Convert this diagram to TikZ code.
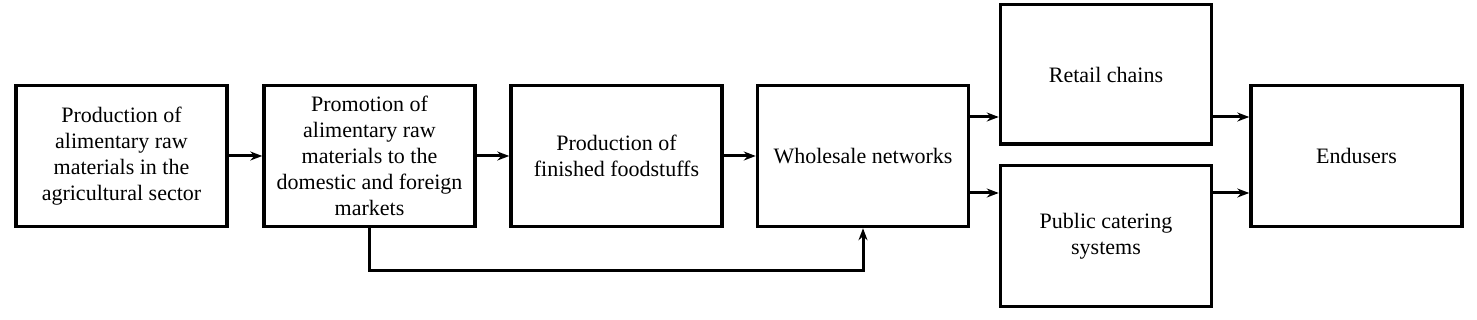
\documentclass[tikz,border=0pt]{standalone}
\usepackage{fontspec}
\setmainfont{Liberation Serif}
\newfontfamily\tnr{Liberation Serif}
\usetikzlibrary{arrows.meta}
\begin{document}
\begin{tikzpicture}[x=1pt,y=-1pt,
  box/.style={draw,line width=3.5pt,inner sep=2pt,align=center,
    minimum width=211pt,minimum height=141pt,
    font=\tnr\fontsize{22}{26}\selectfont},
  arr/.style={line width=3pt,-{Stealth[length=12pt,width=9pt,inset=4pt]}}]
\useasboundingbox (0,0) rectangle (1477,320);
\node[box] (b1) at (121.5,156) {Production of\\alimentary raw\\materials in the\\agricultural sector};
\node[box] (b2) at (369.5,156) {Promotion of\\alimentary raw\\materials to the\\domestic and foreign\\markets};
\node[box] (b3) at (616.5,156) {Production of\\finished foodstuffs};
\node[box] (b4) at (863,156) {Wholesale networks};
\node[box,minimum height=139.5pt] (r) at (1106,74.5) {Retail chains};
\node[box] (p) at (1106,236) {Public catering\\systems};
\node[box] (e) at (1356.5,156) {Endusers};
\draw[arr] (b1) -- (b2);
\draw[arr] (b2) -- (b3);
\draw[arr] (b3) -- (b4);
\draw[arr] ([yshift=39pt]b4.east) -- ([yshift=39pt]b4.east -| r.west);
\draw[arr] ([yshift=-37pt]b4.east) -- ([yshift=-37pt]b4.east -| p.west);
\draw[arr] ([yshift=39pt]e.west -| r.east) -- ([yshift=39pt]e.west);
\draw[arr] ([yshift=-37pt]e.west -| p.east) -- ([yshift=-37pt]e.west);
\draw[arr] (b2.south) -- ++(0,42) -| (b4.south);
\end{tikzpicture}
\end{document}
